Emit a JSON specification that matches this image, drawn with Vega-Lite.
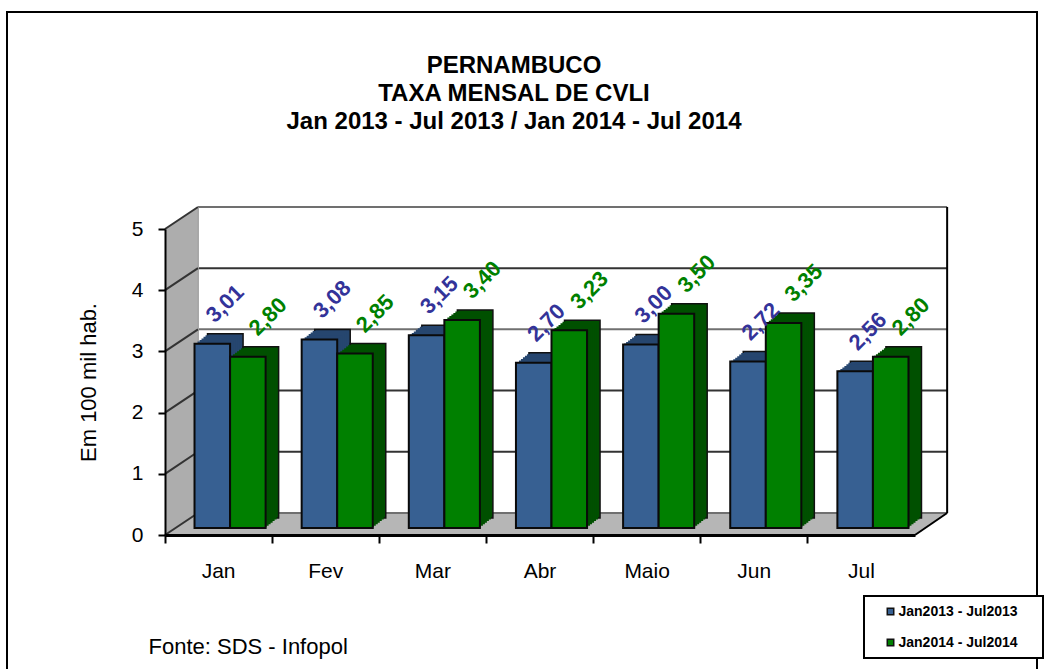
{"$schema":"https://vega.github.io/schema/vega-lite/v6.json","width":1030,"height":658,"autosize":{"type":"none"},"padding":{"left":7,"top":12,"right":8,"bottom":0},"background":"white","config":{"font":"Liberation Sans","view":{"stroke":"black","strokeWidth":2},"legend":{"strokeWidth":2}},"title":{"text":["PERNAMBUCO","TAXA MENSAL DE CVLI","Jan 2013 - Jul 2013  /  Jan 2014 - Jul 2014"],"anchor":"middle","frame":"group","baseline":"top","offset":-121.5,"dx":-8,"fontSize":24,"fontWeight":"bold","lineHeight":28,"color":"black"},"datasets":{"bars":[{"month":"Jan","series":"Jan2013 - Jul2013","value":3.01,"label":"3,01"},{"month":"Jan","series":"Jan2014 - Jul2014","value":2.80,"label":"2,80"},{"month":"Fev","series":"Jan2013 - Jul2013","value":3.08,"label":"3,08"},{"month":"Fev","series":"Jan2014 - Jul2014","value":2.85,"label":"2,85"},{"month":"Mar","series":"Jan2013 - Jul2013","value":3.15,"label":"3,15"},{"month":"Mar","series":"Jan2014 - Jul2014","value":3.40,"label":"3,40"},{"month":"Abr","series":"Jan2013 - Jul2013","value":2.70,"label":"2,70"},{"month":"Abr","series":"Jan2014 - Jul2014","value":3.23,"label":"3,23"},{"month":"Maio","series":"Jan2013 - Jul2013","value":3.00,"label":"3,00"},{"month":"Maio","series":"Jan2014 - Jul2014","value":3.50,"label":"3,50"},{"month":"Jun","series":"Jan2013 - Jul2013","value":2.72,"label":"2,72"},{"month":"Jun","series":"Jan2014 - Jul2014","value":3.35,"label":"3,35"},{"month":"Jul","series":"Jan2013 - Jul2013","value":2.56,"label":"2,56"},{"month":"Jul","series":"Jan2014 - Jul2014","value":2.80,"label":"2,80"}]},"resolve":{"scale":{"x":"independent","xOffset":"independent"},"axis":{"y":"independent"}},"layer":[{"encoding":{"x":{"field":"px","type":"quantitative","axis":null,"scale":{"domain":[0,7],"range":[158,908],"nice":false,"zero":false}},"y":{"field":"py","type":"quantitative","stack":null,"axis":null,"scale":{"domain":[0,5],"range":[523,217],"nice":false}},"y2":{"field":"py2"}},"layer":[{"data":{"values":[{"px":0,"py":0,"py2":5},{"px":0.308,"py":0.36,"py2":5.36}]},"mark":{"type":"area","orient":"vertical","fill":"#adadad"}},{"data":{"values":[{"px":0,"py":0,"py2":0},{"px":0.308,"py":0,"py2":0.36},{"px":7,"py":0,"py2":0.36},{"px":7.3,"py":0.36,"py2":0.36}]},"mark":{"type":"area","orient":"vertical","fill":"#b6b6b6"}},{"data":{"values":[{"kind":"grid","px":0.308,"py":1.36,"px2":7.3,"py2":1.36},{"kind":"grid","px":0.308,"py":2.36,"px2":7.3,"py2":2.36},{"kind":"shade","px":0.308,"py":3.36,"px2":7.3,"py2":3.36},{"kind":"grid","px":0.308,"py":4.36,"px2":7.3,"py2":4.36},{"kind":"shade","px":0.308,"py":5.36,"px2":7.3,"py2":5.36},{"kind":"shade","px":0.308,"py":0.36,"px2":7.3,"py2":0.36},{"kind":"light","px":0.308,"py":0.36,"px2":0.308,"py2":5.36},{"kind":"edge","px":7.3,"py":0.36,"px2":7.3,"py2":5.36},{"kind":"grid","px":0,"py":1,"px2":0.308,"py2":1.36},{"kind":"grid","px":0,"py":2,"px2":0.308,"py2":2.36},{"kind":"grid","px":0,"py":3,"px2":0.308,"py2":3.36},{"kind":"grid","px":0,"py":4,"px2":0.308,"py2":4.36},{"kind":"grid","px":0,"py":5,"px2":0.308,"py2":5.36},{"kind":"grid","px":0,"py":0,"px2":0.308,"py2":0.36},{"kind":"edge","px":7,"py":0,"px2":7.3,"py2":0.36}]},"mark":{"type":"rule","strokeWidth":2},"encoding":{"x2":{"field":"px2"},"stroke":{"field":"kind","type":"nominal","legend":null,"scale":{"domain":["grid","shade","light","edge"],"range":["#333333","#707070","#a8a8a8","#000000"]}}}}]},{"data":{"name":"bars"},"resolve":{"scale":{"xOffset":"independent"}},"encoding":{"x":{"field":"month","type":"nominal","sort":["Jan","Fev","Mar","Abr","Maio","Jun","Jul"],"scale":{"range":[158,908],"paddingInner":0,"paddingOuter":0},"axis":{"orient":"bottom","offset":-135,"zindex":1,"title":"Fonte: SDS - Infopol","titleFontSize":22,"titleFontWeight":"normal","titleColor":"black","titleAlign":"left","titleAnchor":"start","titleBaseline":"middle","titleX":141,"titleY":111,"labelAngle":0,"labelFontSize":21,"labelColor":"black","labelPadding":17,"domainColor":"black","domainWidth":3,"tickColor":"black","tickWidth":2,"tickSize":8,"bandPosition":0,"grid":false}},"y":{"field":"value","type":"quantitative","stack":null,"axis":{"orient":"left","offset":-158,"zindex":1,"values":[0,1,2,3,4,5],"domainColor":"black","domainWidth":2,"tickColor":"black","tickWidth":2,"tickSize":7,"labelFontSize":21,"labelColor":"black","labelPadding":15,"title":"Em 100 mil hab.","titleFontSize":22,"titleFontWeight":"normal","titleColor":"black","titlePadding":31,"grid":false},"scale":{"domain":[0,5],"range":[523,217],"nice":false}}},"layer":[{"mark":{"type":"bar","yOffset":-17,"stroke":"#111111","strokeWidth":1.5},"encoding":{"xOffset":{"field":"series","type":"nominal","scale":{"range":[24.5,131.64],"paddingOuter":0.507,"paddingInner":0}},"y2":{"datum":0.277},"fill":{"condition":{"test":"datum.series === 'Jan2014 - Jul2014'","value":"#005000"},"value":"#26466f"}}},{"mark":{"type":"bar","yOffset":-15.5},"encoding":{"xOffset":{"field":"series","type":"nominal","scale":{"range":[22.5,129.64],"paddingOuter":0.507,"paddingInner":0}},"y2":{"datum":0.253},"fill":{"condition":{"test":"datum.series === 'Jan2014 - Jul2014'","value":"#005000"},"value":"#26466f"}}},{"mark":{"type":"bar","yOffset":-14},"encoding":{"xOffset":{"field":"series","type":"nominal","scale":{"range":[20.5,127.64],"paddingOuter":0.507,"paddingInner":0}},"y2":{"datum":0.228},"fill":{"condition":{"test":"datum.series === 'Jan2014 - Jul2014'","value":"#005000"},"value":"#26466f"}}},{"mark":{"type":"bar","yOffset":-12.4},"encoding":{"xOffset":{"field":"series","type":"nominal","scale":{"range":[18.5,125.64],"paddingOuter":0.507,"paddingInner":0}},"y2":{"datum":0.202},"fill":{"condition":{"test":"datum.series === 'Jan2014 - Jul2014'","value":"#005000"},"value":"#26466f"}}},{"mark":{"type":"bar","yOffset":-10.8},"encoding":{"xOffset":{"field":"series","type":"nominal","scale":{"range":[16.5,123.64],"paddingOuter":0.507,"paddingInner":0}},"y2":{"datum":0.176},"fill":{"condition":{"test":"datum.series === 'Jan2014 - Jul2014'","value":"#005000"},"value":"#26466f"}}},{"mark":{"type":"bar","yOffset":-9.3},"encoding":{"xOffset":{"field":"series","type":"nominal","scale":{"range":[14.5,121.64],"paddingOuter":0.507,"paddingInner":0}},"y2":{"datum":0.152},"fill":{"condition":{"test":"datum.series === 'Jan2014 - Jul2014'","value":"#005000"},"value":"#26466f"}}},{"mark":{"type":"bar","yOffset":-7.8},"encoding":{"xOffset":{"field":"series","type":"nominal","scale":{"range":[12.5,119.64],"paddingOuter":0.507,"paddingInner":0}},"y2":{"datum":0.127},"fill":{"condition":{"test":"datum.series === 'Jan2014 - Jul2014'","value":"#005000"},"value":"#26466f"}}},{"mark":{"type":"bar","yOffset":-7,"stroke":"#0a0a0a","strokeWidth":2},"encoding":{"xOffset":{"field":"series","type":"nominal","scale":{"range":[11.5,118.64],"paddingOuter":0.507,"paddingInner":0}},"y2":{"datum":0.114},"fill":{"field":"series","type":"nominal","scale":{"domain":["Jan2013 - Jul2013","Jan2014 - Jul2014"],"range":["#376092","#008000"]},"legend":{"orient":"none","legendX":857,"legendY":584,"title":"\u00a0","titleOrient":"right","titlePadding":17,"titleFontSize":8,"titleColor":"white","fillColor":"white","strokeColor":"black","padding":8.5,"symbolType":"square","symbolSize":42,"symbolStrokeColor":"#111111","symbolStrokeWidth":1.5,"symbolOffset":11,"labelFontSize":14,"labelFontWeight":"bold","labelColor":"black","labelOffset":1,"labelLimit":300,"rowPadding":17}}}},{"mark":{"type":"text","angle":315,"align":"center","baseline":"middle","fontSize":22,"fontWeight":"bold","yOffset":-47},"encoding":{"xOffset":{"field":"series","type":"nominal","scale":{"range":[38.5,124.5]}},"text":{"field":"label"},"fill":{"condition":{"test":"datum.series === 'Jan2014 - Jul2014'","value":"#008000"},"value":"#333399"}}}]}]}
